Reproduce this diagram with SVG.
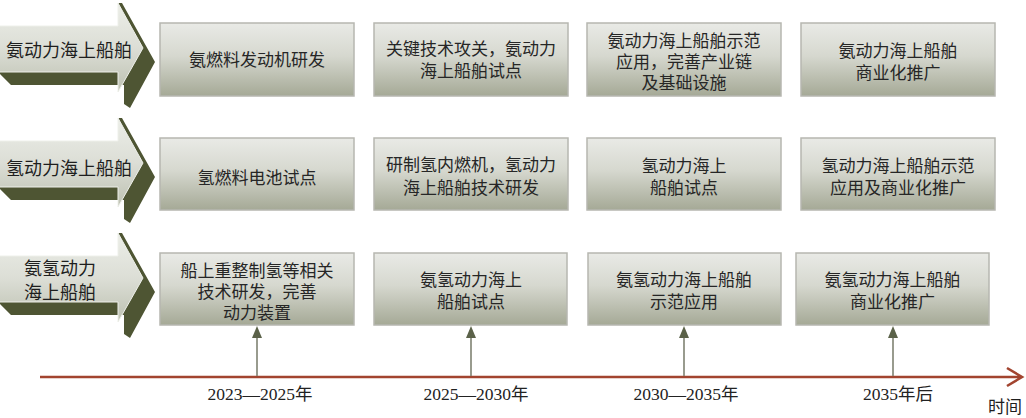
<svg xmlns="http://www.w3.org/2000/svg" width="1026" height="418" viewBox="0 0 1026 418">
<style>
.bg{fill:#ffffff}
.box{fill:url(#boxGrad);stroke:#b6b7b0;stroke-width:1.5}
.t{font-family:"Noto Sans CJK SC","Liberation Sans",sans-serif;font-size:17px;fill:#262626;text-anchor:middle}
.lt{font-family:"Noto Sans CJK SC","Liberation Sans",sans-serif;font-size:18px;fill:#1e1e1e;text-anchor:middle}
.yr{font-family:"Liberation Serif","Noto Sans CJK SC",serif;font-size:17.5px;fill:#222;text-anchor:middle}
.dark{fill:#4e5533}
.front{fill:url(#arrGrad);stroke:#eef0ea;stroke-width:1}
.vline{stroke:#7f8272;stroke-width:1.6;fill:none}
.ahead{fill:#5b6249}
.tline{stroke:#a2442f;stroke-width:2.6;fill:none}
</style>
<defs>
<linearGradient id="boxGrad" x1="0" y1="0" x2="0" y2="1">
<stop offset="0" stop-color="#e9eae6"/>
<stop offset="0.45" stop-color="#d6d8cf"/>
<stop offset="1" stop-color="#a5a996"/>
</linearGradient>
<linearGradient id="arrGrad" gradientUnits="userSpaceOnUse" x1="0" y1="-46" x2="0" y2="44">
<stop offset="0" stop-color="#eceee8"/>
<stop offset="0.5" stop-color="#dcded6"/>
<stop offset="1" stop-color="#bcc0b0"/>
</linearGradient>
</defs>
<rect class="bg" x="0" y="0" width="1026" height="418"/>

<g id="arrow-ammonia" transform="translate(0,49)">
<polygon class="dark" points="-2,23 118,23 118,-46 122,-46 155,13 130,59 124,55 124,36 11,36"/>
<polygon class="front" points="-2,-23 118,-23 118,-46 143,-1 118,43 118,23 -2,23"/>
<text class="lt" x="69" y="7.5">氨动力海上船舶</text>
</g>
<g id="arrow-hydrogen" transform="translate(0,164)">
<polygon class="dark" points="-2,23 118,23 118,-46 122,-46 155,13 130,59 124,55 124,36 11,36"/>
<polygon class="front" points="-2,-23 118,-23 118,-46 143,-1 118,43 118,23 -2,23"/>
<text class="lt" x="69" y="10.5">氢动力海上船舶</text>
</g>
<g id="arrow-ammonia-hydrogen" transform="translate(0,279)">
<polygon class="dark" points="-2,23 118,23 118,-46 122,-46 155,13 130,59 124,55 124,36 11,36"/>
<polygon class="front" points="-2,-23 118,-23 118,-46 143,-1 118,43 118,23 -2,23"/>
<text class="lt" x="60" y="-4.5">氨氢动力</text>
<text class="lt" x="60" y="19.5">海上船舶</text>
</g>

<g id="r1c1"><rect class="box" x="160" y="23" width="194" height="73"/><text class="t" x="257" y="66">氨燃料发动机研发</text></g>
<g id="r1c2"><rect class="box" x="374" y="23" width="194" height="73"/><text class="t" x="471" y="55">关键技术攻关，氨动力</text><text class="t" x="471" y="77">海上船舶试点</text></g>
<g id="r1c3"><rect class="box" x="587" y="23" width="194" height="73"/><text class="t" x="684" y="46.5">氨动力海上船舶示范</text><text class="t" x="684" y="67.5">应用，完善产业链</text><text class="t" x="684" y="89">及基础设施</text></g>
<g id="r1c4"><rect class="box" x="801" y="23" width="194" height="73"/><text class="t" x="898" y="56.5">氨动力海上船舶</text><text class="t" x="898" y="79">商业化推广</text></g>

<g id="r2c1"><rect class="box" x="160" y="138" width="194" height="72"/><text class="t" x="257" y="183.5">氢燃料电池试点</text></g>
<g id="r2c2"><rect class="box" x="374" y="138" width="194" height="72"/><text class="t" x="471" y="171">研制氢内燃机，氢动力</text><text class="t" x="471" y="193.5">海上船舶技术研发</text></g>
<g id="r2c3"><rect class="box" x="587" y="138" width="194" height="72"/><text class="t" x="684" y="171.5">氢动力海上</text><text class="t" x="684" y="193.5">船舶试点</text></g>
<g id="r2c4"><rect class="box" x="801" y="138" width="194" height="72"/><text class="t" x="898" y="171.5">氢动力海上船舶示范</text><text class="t" x="898" y="193.5">应用及商业化推广</text></g>

<g id="r3c1"><rect class="box" x="160" y="253" width="194" height="72"/><text class="t" x="257" y="276.5">船上重整制氢等相关</text><text class="t" x="257" y="298">技术研发，完善</text><text class="t" x="257" y="319">动力装置</text></g>
<g id="r3c2"><rect class="box" x="374" y="253" width="193" height="72"/><text class="t" x="471" y="285.5">氨氢动力海上</text><text class="t" x="471" y="307.5">船舶试点</text></g>
<g id="r3c3"><rect class="box" x="588" y="253" width="193" height="72"/><text class="t" x="684" y="285.5">氨氢动力海上船舶</text><text class="t" x="684" y="307.5">示范应用</text></g>
<g id="r3c4"><rect class="box" x="796" y="253" width="193" height="72"/><text class="t" x="892.5" y="285.5">氨氢动力海上船舶</text><text class="t" x="892.5" y="307.5">商业化推广</text></g>

<g id="connectors">
<line class="tline" x1="40" y1="377" x2="1021" y2="377"/>
<polyline class="tline" points="1007,368 1022,377 1007,386" stroke-width="3"/>
<line class="vline" x1="257" y1="376" x2="257" y2="336"/>
<polygon class="ahead" points="252,338 257,326 262,338"/>
<line class="vline" x1="471" y1="376" x2="471" y2="336"/>
<polygon class="ahead" points="466,338 471,326 476,338"/>
<line class="vline" x1="684" y1="376" x2="684" y2="336"/>
<polygon class="ahead" points="679,338 684,326 689,338"/>
<line class="vline" x1="893" y1="376" x2="893" y2="336"/>
<polygon class="ahead" points="888,338 893,326 898,338"/>
</g>

<g id="timeline-labels">
<text class="yr" x="260" y="400">2023—2025年</text>
<text class="yr" x="476" y="400">2025—2030年</text>
<text class="yr" x="686" y="400">2030—2035年</text>
<text class="yr" x="898" y="400">2035年后</text>
<text class="lt" x="1005" y="413" style="font-size:17px">时间</text>
</g>
</svg>
